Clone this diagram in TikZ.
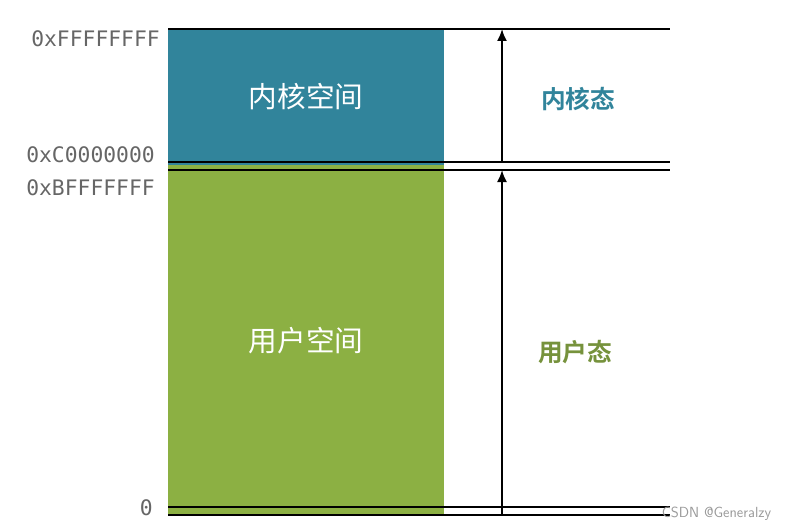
\documentclass[tikz,border=0pt]{standalone}
\usepackage{fontspec}
\setmonofont{DejaVu Sans Mono}
\newfontfamily\cjk{Noto Sans CJK SC}
\newfontfamily\cjkbold{Noto Sans CJK SC Bold}
\usetikzlibrary{positioning,arrows.meta}
\definecolor{kernelblue}{HTML}{31849B}
\definecolor{usergreen}{HTML}{8CB043}
\definecolor{userdark}{HTML}{76923C}
\definecolor{addrgray}{HTML}{666666}
\tikzstyle{arrow} = [line width=1.4pt,-{Latex[length=9pt,width=7.5pt]}]
\tikzstyle{bound} = [line width=2.2pt]
\tikzstyle{addr} = [anchor=east,font=\ttfamily\fontsize{16}{18}\selectfont,text=addrgray,inner sep=0pt]

\begin{document}
\begin{tikzpicture}[x=0.75pt,y=-0.75pt]
\useasboundingbox (0,0) rectangle (791,531);
% the two spaces
\node[fill=kernelblue,minimum width=276*0.75pt,minimum height=137*0.75pt,inner sep=0pt,anchor=north west,
      font=\cjk\fontsize{21.5}{23}\selectfont,text=white] (kernel) at (168,28) {内核空间};
\node[fill=usergreen,minimum width=276*0.75pt,minimum height=350*0.75pt,inner sep=0pt,anchor=north west,
      font=\cjk\fontsize{21.5}{23}\selectfont,text=white] (user) at (168,165) {用户空间};

% boundaries
\coordinate (top l) at (168,29);   \coordinate (top r) at (670,29);
\coordinate (kend l) at (168,162); \coordinate (kend r) at (670,162);
\coordinate (ubeg l) at (168,170); \coordinate (ubeg r) at (670,170);
\coordinate (zero l) at (168,507); \coordinate (zero r) at (670,507);
\coordinate (bot l) at (168,515);  \coordinate (bot r) at (670,515);
\draw[bound] (top l) -- (top r);
\draw[bound] (kend l) -- (kend r);
\draw[bound] (ubeg l) -- (ubeg r);
\draw[bound] (zero l) -- (zero r);
\draw[bound] (bot l) -- (bot r);

% addresses
\node[addr] (ffff) at (160,39) {0xFFFFFFFF};
\node[addr] (c000) at (155,155) {0xC0000000};
\node[addr] (bfff) at (155,188) {0xBFFFFFFF};
\node[addr] (nul) at (153,508) {0};

% modes
\coordinate (karrow s) at (502,162);
\coordinate (karrow e) at (502,29);
\coordinate (uarrow s) at (502,515);
\coordinate (uarrow e) at (502,170);
\draw[arrow] (karrow s) -- (karrow e);
\draw[arrow] (uarrow s) -- (uarrow e);
\node[font=\cjkbold\fontsize{18.5}{20}\selectfont,text=kernelblue] (kmode) at (578,99) {内核态};
\node[font=\cjkbold\fontsize{18.5}{20}\selectfont,text=userdark] (umode) at (575,352) {用户态};

\node[font=\sffamily\fontsize{11}{12}\selectfont,text=gray!80,anchor=east] (mark) at (776,514) {CSDN @Generalzy};
\end{tikzpicture}
\end{document}
